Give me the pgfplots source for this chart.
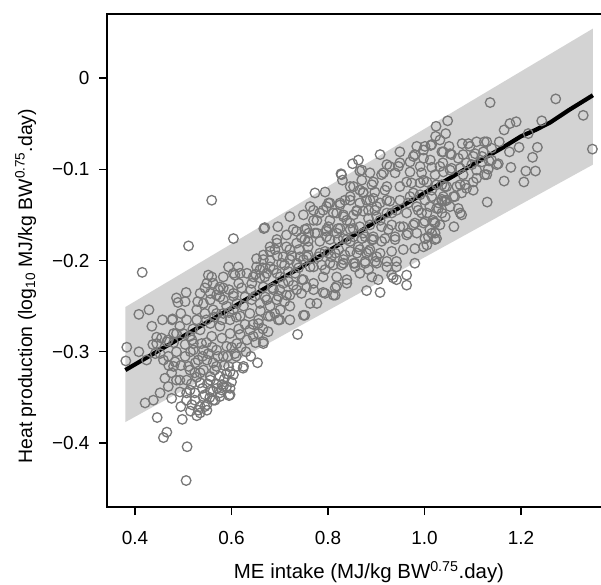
\documentclass[border=0pt]{standalone}
\usepackage{pgfplots}
\usepackage{pgfplotstable}
\pgfplotsset{compat=1.18}
\usepackage{fontspec}
\setmainfont{Liberation Sans}
\definecolor{bandgray}{HTML}{D3D3D3}
\definecolor{ptgray}{HTML}{777777}

\pgfplotstableread{
x y
0.559 -0.134
0.511 -0.184
0.604 -0.176
0.415 -0.213
0.667 -0.165
0.696 -0.163
0.721 -0.152
0.506 -0.441
0.508 -0.404
0.459 -0.394
0.466 -0.388
0.446 -0.372
0.498 -0.374
0.421 -0.356
0.383 -0.295
0.381 -0.310
0.408 -0.300
0.408 -0.259
0.429 -0.254
0.489 -0.246
0.435 -0.272
0.477 -0.265
0.445 -0.284
0.437 -0.292
0.506 -0.235
0.654 -0.312
0.624 -0.318
0.595 -0.348
0.597 -0.340
0.580 -0.336
0.666 -0.291
0.700 -0.265
0.737 -0.281
1.272 -0.023
1.329 -0.041
1.348 -0.078
1.136 -0.027
1.243 -0.047
1.190 -0.048
1.177 -0.050
1.165 -0.057
1.215 -0.061
1.234 -0.076
1.224 -0.087
1.179 -0.098
1.210 -0.102
1.230 -0.102
1.165 -0.113
1.206 -0.114
1.130 -0.136
1.196 -0.076
1.176 -0.081
1.155 -0.070
1.139 -0.077
1.124 -0.070
1.108 -0.070
1.094 -0.075
1.078 -0.072
1.101 -0.086
1.119 -0.086
1.134 -0.091
1.087 -0.093
1.070 -0.088
1.053 -0.083
1.051 -0.075
1.036 -0.081
1.024 -0.053
1.044 -0.061
1.048 -0.047
1.023 -0.064
1.013 -0.074
1.001 -0.075
0.908 -0.084
0.863 -0.090
0.851 -0.094
0.827 -0.105
0.830 -0.112
0.866 -0.102
0.773 -0.126
0.794 -0.125
1.132 -0.100
1.150 -0.095
1.108 -0.101
1.080 -0.106
1.056 -0.099
1.038 -0.093
1.015 -0.098
0.994 -0.104
0.970 -0.103
0.946 -0.097
0.922 -0.095
0.949 -0.081
0.980 -0.084
0.984 -0.075
1.042 -0.119
1.074 -0.117
1.101 -0.114
1.125 -0.106
1.087 -0.121
1.063 -0.130
1.036 -0.133
1.015 -0.130
0.991 -0.115
0.963 -0.114
0.939 -0.104
0.915 -0.104
0.887 -0.104
0.891 -0.117
0.918 -0.123
0.949 -0.119
0.977 -0.126
1.001 -0.134
1.025 -0.143
1.042 -0.135
1.070 -0.143
1.036 -0.148
1.074 -0.148
1.061 -0.163
1.020 -0.158
1.015 -0.170
1.001 -0.176
1.022 -0.177
0.980 -0.187
0.994 -0.148
0.984 -0.141
0.966 -0.137
0.980 -0.159
0.966 -0.170
0.949 -0.163
0.939 -0.177
0.932 -0.148
0.922 -0.134
0.901 -0.141
0.880 -0.134
0.897 -0.125
0.866 -0.123
0.846 -0.119
0.835 -0.134
0.860 -0.145
0.884 -0.154
0.908 -0.156
0.925 -0.166
0.911 -0.179
0.891 -0.177
0.873 -0.170
0.852 -0.165
0.839 -0.156
0.818 -0.148
0.801 -0.137
0.783 -0.148
0.763 -0.141
0.770 -0.156
0.752 -0.166
0.773 -0.170
0.797 -0.166
0.818 -0.170
0.839 -0.177
0.863 -0.185
0.880 -0.192
0.901 -0.196
0.922 -0.201
0.942 -0.207
0.963 -0.216
0.980 -0.203
0.935 -0.219
0.963 -0.227
0.908 -0.235
0.880 -0.233
0.904 -0.221
0.884 -0.210
0.856 -0.207
0.832 -0.203
0.807 -0.196
0.783 -0.192
0.759 -0.185
0.749 -0.199
0.770 -0.207
0.794 -0.210
0.818 -0.218
0.770 -0.225
0.790 -0.235
0.728 -0.166
0.752 -0.177
0.721 -0.188
0.694 -0.181
0.707 -0.196
0.735 -0.203
0.756 -0.196
0.680 -0.190
0.666 -0.199
0.652 -0.207
0.632 -0.214
0.614 -0.207
0.604 -0.214
0.583 -0.218
0.562 -0.225
0.552 -0.216
0.504 -0.245
0.535 -0.236
0.556 -0.243
0.573 -0.232
0.583 -0.243
0.604 -0.239
0.621 -0.230
0.642 -0.225
0.659 -0.219
0.673 -0.214
0.687 -0.210
0.701 -0.218
0.718 -0.223
0.732 -0.214
0.746 -0.221
0.756 -0.229
0.735 -0.232
0.714 -0.238
0.694 -0.243
0.680 -0.250
0.659 -0.247
0.642 -0.243
0.625 -0.250
0.604 -0.254
0.583 -0.258
0.562 -0.254
0.545 -0.258
0.528 -0.265
0.507 -0.265
0.500 -0.280
0.518 -0.287
0.535 -0.276
0.556 -0.269
0.576 -0.272
0.597 -0.265
0.618 -0.261
0.638 -0.258
0.656 -0.265
0.676 -0.261
0.697 -0.265
0.721 -0.265
0.752 -0.260
0.676 -0.278
0.656 -0.280
0.638 -0.276
0.618 -0.281
0.597 -0.280
0.580 -0.285
0.559 -0.283
0.538 -0.291
0.521 -0.298
0.504 -0.305
0.511 -0.316
0.531 -0.309
0.552 -0.302
0.569 -0.298
0.590 -0.294
0.611 -0.291
0.632 -0.287
0.607 -0.302
0.625 -0.316
0.583 -0.305
0.562 -0.312
0.542 -0.320
0.524 -0.323
0.507 -0.331
0.535 -0.334
0.556 -0.331
0.576 -0.327
0.597 -0.322
0.583 -0.338
0.562 -0.343
0.545 -0.347
0.524 -0.345
0.507 -0.345
0.597 -0.347
0.576 -0.349
0.486 -0.280
0.466 -0.289
0.452 -0.302
0.469 -0.305
0.486 -0.300
0.504 -0.292
0.514 -0.283
0.459 -0.309
0.483 -0.311
0.462 -0.329
0.476 -0.323
0.486 -0.331
0.469 -0.338
0.452 -0.345
0.438 -0.353
0.476 -0.351
0.493 -0.344
0.518 -0.358
0.531 -0.364
0.535 -0.367
0.524 -0.353
0.542 -0.349
0.556 -0.342
0.566 -0.353
0.549 -0.358
0.580 -0.342
0.590 -0.338
0.514 -0.320
0.535 -0.323
0.549 -0.309
0.556 -0.327
0.569 -0.316
0.542 -0.298
0.521 -0.291
0.528 -0.254
0.542 -0.247
0.576 -0.240
0.590 -0.250
0.569 -0.258
0.604 -0.236
0.611 -0.247
0.594 -0.316
0.604 -0.325
0.611 -0.316
0.828 -0.106
0.846 -0.130
0.873 -0.126
0.894 -0.132
0.825 -0.137
0.797 -0.141
0.770 -0.145
0.749 -0.150
0.777 -0.156
0.804 -0.156
0.832 -0.150
0.859 -0.146
0.884 -0.145
0.901 -0.152
0.846 -0.159
0.866 -0.163
0.887 -0.161
0.825 -0.165
0.797 -0.168
0.777 -0.170
0.756 -0.165
0.735 -0.168
0.714 -0.172
0.694 -0.177
0.680 -0.185
0.652 -0.198
0.666 -0.194
0.690 -0.188
0.714 -0.185
0.735 -0.181
0.759 -0.179
0.783 -0.179
0.804 -0.177
0.832 -0.176
0.853 -0.174
0.877 -0.174
0.894 -0.177
0.887 -0.188
0.866 -0.188
0.846 -0.190
0.822 -0.188
0.801 -0.192
0.780 -0.196
0.759 -0.194
0.742 -0.196
0.721 -0.199
0.704 -0.203
0.680 -0.207
0.659 -0.210
0.645 -0.218
0.669 -0.218
0.694 -0.214
0.718 -0.212
0.739 -0.208
0.763 -0.207
0.787 -0.205
0.811 -0.205
0.832 -0.199
0.856 -0.203
0.877 -0.203
0.898 -0.201
0.839 -0.221
0.818 -0.228
0.790 -0.218
0.749 -0.221
0.728 -0.227
0.707 -0.225
0.687 -0.232
0.666 -0.229
0.649 -0.239
0.673 -0.243
0.697 -0.239
0.721 -0.238
0.745 -0.236
0.770 -0.232
0.811 -0.238
0.763 -0.247
0.777 -0.247
0.749 -0.260
0.680 -0.261
0.656 -0.269
0.645 -0.283
0.666 -0.289
0.721 -0.250
0.701 -0.254
0.870 -0.101
0.977 -0.086
0.998 -0.079
1.015 -0.073
1.032 -0.068
1.012 -0.090
0.991 -0.097
0.970 -0.092
0.949 -0.093
0.928 -0.097
0.911 -0.106
0.894 -0.114
0.870 -0.112
0.853 -0.119
0.873 -0.125
0.922 -0.119
0.973 -0.115
0.998 -0.112
1.022 -0.106
1.039 -0.103
1.036 -0.117
1.015 -0.123
0.991 -0.128
0.970 -0.130
0.949 -0.134
0.928 -0.135
0.908 -0.137
0.887 -0.134
0.866 -0.137
0.846 -0.134
0.825 -0.139
0.804 -0.137
0.790 -0.145
0.811 -0.148
0.832 -0.152
0.853 -0.150
0.873 -0.146
0.897 -0.145
0.922 -0.148
0.942 -0.145
0.963 -0.148
0.987 -0.145
1.011 -0.141
1.029 -0.137
1.046 -0.134
1.043 -0.152
1.018 -0.156
0.998 -0.159
0.977 -0.161
0.956 -0.163
0.932 -0.161
0.911 -0.163
0.846 -0.166
0.821 -0.165
0.801 -0.163
0.797 -0.174
0.821 -0.177
0.846 -0.179
0.870 -0.176
0.894 -0.174
0.918 -0.176
0.939 -0.174
0.963 -0.172
0.984 -0.170
1.011 -0.166
1.025 -0.176
1.005 -0.183
0.956 -0.188
0.932 -0.190
0.908 -0.192
0.884 -0.190
0.860 -0.192
0.835 -0.194
0.815 -0.192
0.794 -0.190
0.804 -0.203
0.828 -0.205
0.853 -0.203
0.877 -0.201
0.901 -0.203
0.922 -0.207
0.942 -0.201
0.932 -0.216
0.942 -0.221
0.839 -0.225
0.815 -0.230
0.794 -0.236
0.815 -0.238
0.866 -0.214
0.891 -0.218
1.091 -0.072
1.129 -0.070
0.998 -0.088
1.039 -0.081
1.056 -0.084
1.032 -0.097
1.053 -0.101
1.074 -0.099
1.098 -0.095
1.119 -0.092
1.139 -0.090
1.153 -0.094
1.080 -0.084
1.105 -0.083
1.122 -0.081
1.108 -0.110
1.129 -0.106
1.084 -0.117
1.067 -0.119
1.046 -0.119
1.025 -0.117
1.005 -0.114
1.101 -0.123
1.077 -0.126
1.060 -0.130
1.039 -0.130
1.036 -0.135
1.077 -0.150
1.053 -0.141
1.029 -0.143
1.005 -0.148
1.001 -0.157
1.022 -0.159
1.032 -0.161
1.008 -0.174
1.022 -0.170
0.998 -0.185
0.594 -0.207
0.607 -0.216
0.618 -0.214
0.559 -0.218
0.549 -0.225
0.576 -0.229
0.583 -0.230
0.556 -0.236
0.569 -0.238
0.486 -0.241
0.669 -0.164
0.457 -0.265
0.478 -0.264
0.493 -0.272
0.480 -0.280
0.469 -0.287
0.445 -0.291
0.442 -0.302
0.424 -0.309
0.480 -0.316
0.493 -0.331
0.514 -0.342
0.507 -0.353
0.535 -0.360
0.549 -0.364
0.562 -0.353
0.576 -0.345
0.590 -0.324
0.569 -0.335
0.515 -0.300
0.525 -0.312
0.540 -0.305
0.548 -0.290
0.560 -0.295
0.572 -0.305
0.585 -0.315
0.592 -0.305
0.600 -0.295
0.565 -0.320
0.550 -0.335
0.528 -0.328
0.517 -0.335
0.540 -0.340
0.555 -0.350
0.570 -0.340
0.585 -0.330
0.600 -0.333
0.610 -0.305
0.620 -0.295
0.615 -0.275
0.628 -0.270
0.645 -0.270
0.660 -0.255
0.670 -0.240
0.685 -0.230
0.700 -0.232
0.710 -0.245
0.690 -0.258
0.665 -0.275
0.650 -0.290
0.630 -0.300
0.640 -0.305
0.548 -0.265
0.565 -0.262
0.580 -0.265
0.595 -0.257
0.610 -0.262
0.595 -0.232
0.615 -0.225
0.628 -0.240
0.640 -0.232
0.650 -0.215
0.665 -0.208
0.680 -0.200
0.695 -0.195
0.710 -0.205
0.725 -0.195
0.740 -0.188
0.745 -0.175
0.760 -0.170
0.520 -0.275
0.530 -0.245
0.545 -0.230
0.495 -0.258
0.480 -0.290
0.495 -0.315
0.470 -0.315
0.455 -0.285
0.495 -0.360
0.515 -0.365
0.528 -0.370
0.545 -0.360
}\scatterdata

\begin{document}
\begin{tikzpicture}
\begin{axis}[
  name=ax,
  scale only axis,
  width=524bp, height=493bp,
  xmin=0.342, xmax=1.428,
  ymin=-0.470, ymax=0.070,
  axis line style={line width=1.6bp, black},
  xtick={0.4,0.6,0.8,1.0,1.2},
  xticklabels={0.4,0.6,0.8,1.0,1.2},
  ytick={-0.4,-0.3,-0.2,-0.1,0},
  yticklabels={−0.4,−0.3,−0.2,−0.1,0},
  xtick pos=lower, ytick pos=left,
  tick align=outside,
  major tick length=8bp,
  every tick/.style={black, line width=1.4bp},
  tick label style={font=\fontsize{19}{22}\selectfont},
  xticklabel style={yshift=-13bp},
  yticklabel style={xshift=-6bp},
  every axis x label/.style={at={(axis description cs:0.5,-0.146)}, anchor=base, font=\fontsize{20.5}{24}\selectfont},
  every axis y label/.style={at={(axis description cs:-0.1431,0.448)}, rotate=90, anchor=base, font=\fontsize{19.5}{24}\selectfont},
  xlabel={ME intake (MJ/kg BW\textsuperscript{0.75}.day)},
  ylabel={Heat production (log\textsubscript{10} MJ/kg BW\textsuperscript{0.75}.day)},
  clip=true,
]
\addplot[fill=bandgray, draw=none] coordinates {
  (0.380,-0.251) (1.349,0.054) (1.349,-0.095) (0.380,-0.377)
} -- cycle;
\addplot[only marks, mark=o, mark size=4.8bp, draw=ptgray, mark options={line width=1.3bp, draw=ptgray}] table[x=x, y=y] {\scatterdata};
\addplot[black, line width=4.2bp, no marks] coordinates {
  (0.380,-0.320) (0.500,-0.283) (0.600,-0.252) (0.700,-0.221)
  (0.800,-0.190) (0.900,-0.157) (1.000,-0.126) (1.100,-0.095)
  (1.160,-0.077) (1.200,-0.064) (1.230,-0.057) (1.260,-0.049)
  (1.300,-0.035) (1.349,-0.019)
};
\end{axis}
\pgfresetboundingbox
\path[use as bounding box] ([shift={(-107bp,-78bp)}]ax.south west) rectangle ([shift={(494bp,14bp)}]ax.north west);
\end{tikzpicture}
\end{document}
